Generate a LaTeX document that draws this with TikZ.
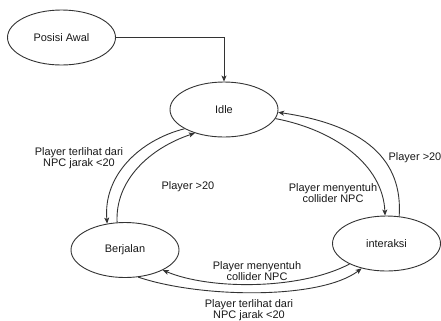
\documentclass[tikz,border=0pt]{standalone}
\usepackage{fontspec}
\setmainfont{Liberation Sans}
\usetikzlibrary{shapes.geometric,arrows.meta}
\begin{document}
\begin{tikzpicture}[x=1bp,y=-1bp,
  state/.style={ellipse, draw=black!80, line width=0.9bp, minimum width=108bp, minimum height=55bp, inner sep=0pt, font=\fontsize{11}{10.5}\selectfont, text=black!90},
  conn/.style={draw=black!80, line width=0.9bp, -{Stealth[length=6bp,width=5bp,inset=1.5bp]}},
  lbl/.style={align=center, inner sep=0pt, font=\fontsize{11}{10.5}\selectfont, text=black!90}]
\fill[white] (0,0) rectangle (441,320);
\useasboundingbox (0,0) rectangle (441,320);
\node[state] (pa) at (61.5,37.5) {Posisi Awal};
\node[state] (idle) at (224,109.5) {Idle};
\node[state] (berj) at (125,250) {Berjalan};
\node[state] (inter) at (386.5,243.5) {interaksi};
\draw[conn] (pa.east) -| (idle.north);
\draw[conn] (idle.206) .. controls (140,140) and (103,175) .. (berj.124);
\draw[conn] (berj.106) .. controls (115,180) and (150,148) .. (idle.219);
\draw[conn] (inter.65) .. controls (403,160) and (365,125) .. (idle.357);
\draw[conn] (idle.350) .. controls (335,130) and (383,165) .. (inter.93);
\draw[conn] (inter.209) .. controls (300,290) and (210,290) .. (berj.332);
\draw[conn] (berj.296) .. controls (200,298) and (320,300) .. (inter.225);
\node[lbl] (l1) at (79,158) {Player terlihat dari\\NPC jarak <20};
\node[lbl] (l2) at (188,187) {Player >20};
\node[lbl] (l3) at (333,193) {Player menyentuh\\collider NPC};
\node[lbl] (l4) at (415,158) {Player >20};
\node[lbl] (l5) at (257,271) {Player menyentuh\\collider NPC};
\node[lbl] (l6) at (249,310) {Player terlihat dari\\NPC jarak <20};
\end{tikzpicture}
\end{document}
